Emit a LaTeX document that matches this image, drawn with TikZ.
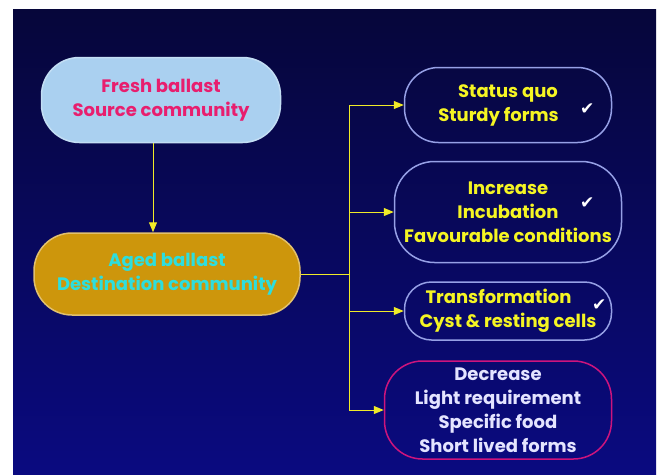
\documentclass[tikz,border=0pt]{standalone}
\usepackage{fontspec}
\setmainfont{Poppins}
\newfontfamily\symfont{DejaVu Sans}
\usetikzlibrary{arrows.meta}

\definecolor{bgtop}{RGB}{6,6,58}
\definecolor{bgbot}{RGB}{10,10,128}
\definecolor{freshfill}{RGB}{170,208,240}
\definecolor{freshtext}{RGB}{232,30,110}
\definecolor{agedfill}{RGB}{205,150,12}
\definecolor{agedtext}{RGB}{45,222,222}
\definecolor{rimblue}{RGB}{150,160,230}
\definecolor{rimpink}{RGB}{205,20,125}
\definecolor{boxtext}{RGB}{245,245,35}
\definecolor{lighttext}{RGB}{228,228,255}
\definecolor{linkyellow}{RGB}{240,235,40}

\begin{document}
\begin{tikzpicture}[x=1pt,y=-1pt]
    \tikzstyle{box}=[rectangle,draw,line width=1.5pt,align=center,inner sep=0pt,font=\fontsize{18}{24}\selectfont\bfseries]
    \tikzstyle{outcome}=[box,draw=rimblue,text=boxtext]
    \tikzstyle{arr}=[draw=linkyellow,line width=1pt,-{Triangle[length=10pt,width=8pt,fill=linkyellow]}]
    \tikzstyle{link}=[draw=linkyellow,line width=1pt]
    \tikzstyle{tick}=[text=white,inner sep=0pt,font=\symfont\fontsize{17}{17}\selectfont]
      \useasboundingbox (0,0) rectangle (661,474);
      \shade[top color=bgtop,bottom color=bgbot] (13,9) rectangle (656,474);

      \node (F) at (161,100) [box,fill=freshfill,draw=freshfill!70!white,text=freshtext,minimum width=239pt,minimum height=85pt,rounded corners=38pt] {Fresh ballast\\Source community};
      \node (A) at (167,274) [box,fill=agedfill,draw=agedfill!60!white,text=agedtext,minimum width=266pt,minimum height=82pt,rounded corners=38pt] {Aged ballast\\Destination community};

      \node (S) at (508,105) [outcome,minimum width=207pt,minimum height=75pt,rounded corners=34pt] {Status quo\\Sturdy forms\phantom{m}};
      \node (I) at (508,212) [outcome,minimum width=227pt,minimum height=101pt,rounded corners=40pt] {Increase\\Incubation\\Favourable conditions};
      \node (T) at (508,311) [outcome,minimum width=207pt,minimum height=58pt,rounded corners=27pt] {Transformation\phantom{m}\\Cyst \& resting cells};
      \node (D) at (498,410) [box,draw=rimpink,text=lighttext,minimum width=227pt,minimum height=98pt,rounded corners=38pt] {Decrease\\Light requirement\\Specific food\\Short lived forms};

      \node (S1) at ([xshift=-25pt,yshift=-4pt]S.east) [tick] {✔};
      \node (I1) at ([xshift=-35pt,yshift=9pt]I.east) [tick] {✔};
      \node (T1) at ([xshift=-13pt,yshift=6pt]T.east) [tick] {✔};

      \coordinate (J) at (349,276);
      \path[arr] ([xshift=-8pt]F.south) -- ([xshift=-8pt]F.south |- A.north);
      \path[link] (A.east) -- (A.east -| J);
      \path[link] (J |- S.west) -- (J |- D.west);
      \path[arr] (J |- S.west) -- (S.west);
      \path[arr] (J |- I.west) -- (I.west);
      \path[arr] (J |- T.west) -- (T.west);
      \path[arr] (J |- D.west) -- (D.west);
  \end{tikzpicture}
\end{document}
